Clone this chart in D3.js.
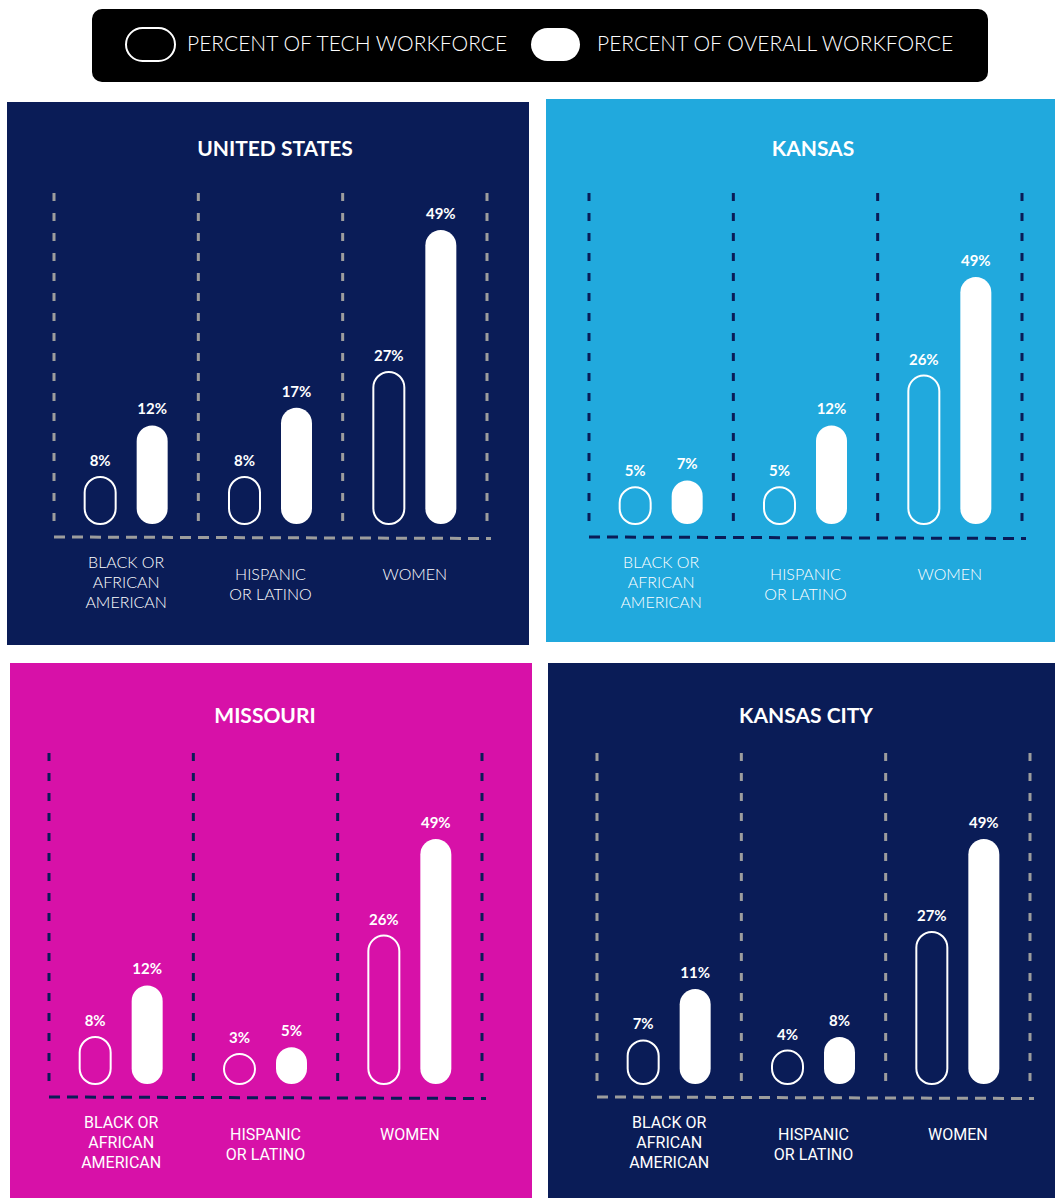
<!DOCTYPE html>
<html>
<head>
<meta charset="utf-8">
<script src="https://cdn.jsdelivr.net/npm/d3@7"></script>
<style>
  html, body { margin: 0; padding: 0; background: #fff; }
  svg { display: block; }
</style>
</head>
<body>
<div id="chart"></div>
<script>
// data
const regions = ['UNITED STATES', 'KANSAS', 'MISSOURI', 'KANSAS CITY'];
const groups = ['BLACK OR AFRICAN AMERICAN', 'HISPANIC OR LATINO', 'WOMEN'];
const groupLines = [['BLACK OR', 'AFRICAN', 'AMERICAN'], ['HISPANIC', 'OR LATINO'], ['WOMEN']];
const series = ['tech', 'overall'];
const legendLabels = ['PERCENT OF TECH WORKFORCE', 'PERCENT OF OVERALL WORKFORCE'];
const techShare = [
    [8, 8, 27],
    [5, 5, 26],
    [8, 3, 26],
    [7, 4, 27],
];
const overallShare = [
    [12, 17, 49],
    [7, 12, 49],
    [12, 5, 49],
    [11, 8, 49],
];

const width = 1055;
const height = 1198;
const navy = '#0a1c57';

// panel layout
const panels = [
    { x: 7, y: 102, w: 522, h: 543, fill: navy, dash: '#9d9d9d', chartX: 54, chartTop: 193, titleX: 275, titleY: 148, peak: 294, font: 'Lato' },
    { x: 546, y: 99, w: 509, h: 543, fill: '#21a9dd', dash: navy, chartX: 589, chartTop: 193, titleX: 813, titleY: 148, peak: 247, font: 'Lato' },
    { x: 10, y: 663, w: 522, h: 535, fill: '#d711a8', dash: navy, chartX: 49, chartTop: 753, titleX: 265, titleY: 715, peak: 245, font: 'Roboto' },
    { x: 548, y: 663, w: 507, h: 535, fill: navy, dash: '#9d9d9d', chartX: 597, chartTop: 753, titleX: 806, titleY: 715, peak: 245, font: 'Roboto' },
];

const chartW = 433;
const pillW = 31;

const svg = d3.select('#chart').append('svg')
    .attr('width', width)
    .attr('height', height);

// legend
const legend = svg.append('g');
legend.append('rect')
    .attr('x', 92).attr('y', 9)
    .attr('width', 896).attr('height', 73)
    .attr('rx', 10)
    .attr('fill', '#000');

const legendX = d3.scaleOrdinal().domain(series).range([125, 531]);
const legendItem = legend.selectAll('.item')
    .data(series)
    .enter()
    .append('g')
    .attr('class', 'item')
    .attr('transform', d => `translate(${legendX(d)},27)`);

legendItem.append('rect')
    .attr('x', d => (d === 'tech' ? 1 : 0))
    .attr('y', 1)
    .attr('width', 49)
    .attr('height', 33)
    .attr('rx', 16.5)
    .attr('fill', d => (d === 'tech' ? 'none' : '#fff'))
    .attr('stroke', '#fff')
    .attr('stroke-width', d => (d === 'tech' ? 2 : 0));

legendItem.append('text')
    .text((d, i) => legendLabels[i])
    .attr('x', d => (d === 'tech' ? 62 : 66))
    .attr('y', 24)
    .attr('fill', '#fff')
    .style('font-family', 'Lato, "Open Sans", sans-serif')
    .style('font-weight', 300)
    .style('font-size', '21px');

// panels
regions.forEach((region, p) => {
    const cfg = panels[p];
    const g = svg.append('g');

    g.append('rect')
        .attr('x', cfg.x).attr('y', cfg.y)
        .attr('width', cfg.w).attr('height', cfg.h)
        .attr('fill', cfg.fill);

    g.append('text').text(region)
        .attr('x', cfg.titleX)
        .attr('y', cfg.titleY + 7.5)
        .attr('text-anchor', 'middle')
        .attr('fill', '#fff')
        .style('font-family', 'Lato, "Open Sans", sans-serif')
        .style('font-weight', 700)
        .style('font-size', '21px');

    const x = d3.scaleBand()
        .domain(groups)
        .range([cfg.chartX, cfg.chartX + chartW])
        .paddingInner(0);

    const inner = d3.scalePoint()
        .domain(series)
        .range([x.bandwidth() / 2 - 26, x.bandwidth() / 2 + 26]);

    const barBottom = cfg.chartTop + 331;
    const baseline = cfg.chartTop + 344;

    // pill height by value
    const h = d3.scaleLinear()
        .domain([3, 8, 11, 27, 49])
        .range([30, 47, 95, 152, cfg.peak]);

    // vertical dashed separators
    const edges = groups.map(d => x(d)).concat([cfg.chartX + chartW]);
    g.selectAll('.sep')
        .data(edges)
        .enter()
        .append('line')
        .attr('x1', d => d).attr('x2', d => d)
        .attr('y1', cfg.chartTop)
        .attr('y2', cfg.chartTop + 333)
        .attr('stroke', cfg.dash)
        .attr('stroke-width', 3)
        .attr('stroke-dasharray', '8,12');

    // baseline
    g.append('line')
        .attr('x1', cfg.chartX)
        .attr('x2', cfg.chartX + chartW + 4)
        .attr('y1', baseline)
        .attr('y2', baseline + 1.5)
        .attr('stroke', cfg.dash)
        .attr('stroke-width', 3)
        .attr('stroke-dasharray', '11,7');

    const rows = [];
    groups.forEach((grp, i) => {
        rows.push({ grp, s: 'tech', v: techShare[p][i] });
        rows.push({ grp, s: 'overall', v: overallShare[p][i] });
    });

    g.selectAll('.pill')
        .data(rows)
        .enter()
        .append('rect')
        .attr('x', d => x(d.grp) + inner(d.s) - pillW / 2)
        .attr('y', d => barBottom - h(d.v))
        .attr('width', pillW)
        .attr('height', d => h(d.v))
        .attr('rx', pillW / 2)
        .attr('fill', d => (d.s === 'tech' ? 'none' : '#fff'))
        .attr('stroke', d => (d.s === 'tech' ? '#fff' : 'none'))
        .attr('stroke-width', 2);

    g.selectAll('.val')
        .data(rows)
        .enter()
        .append('text')
        .text(d => `${d.v}%`)
        .attr('x', d => x(d.grp) + inner(d.s))
        .attr('y', d => barBottom - h(d.v) - 11)
        .attr('text-anchor', 'middle')
        .attr('fill', '#fff')
        .style('font-family', 'Lato, "Open Sans", sans-serif')
        .style('font-weight', 700)
        .style('font-size', '15px');

    // category labels
    groups.forEach((grp, i) => {
        const lines = groupLines[i];
        const firstY = baseline + (lines.length === 3 ? 25 : 37);
        const t = g.append('text')
            .attr('text-anchor', 'middle')
            .attr('fill', '#fff')
            .style('font-family', `${cfg.font}, "Open Sans", sans-serif`)
            .style('font-weight', cfg.font === 'Lato' ? 300 : 400)
            .style('font-size', '16px');
        lines.forEach((line, k) => {
            t.append('tspan')
                .attr('x', x(grp) + x.bandwidth() / 2)
                .attr('y', firstY + k * 20 + 6)
                .text(line);
        });
    });
});
</script>
</body>
</html>
